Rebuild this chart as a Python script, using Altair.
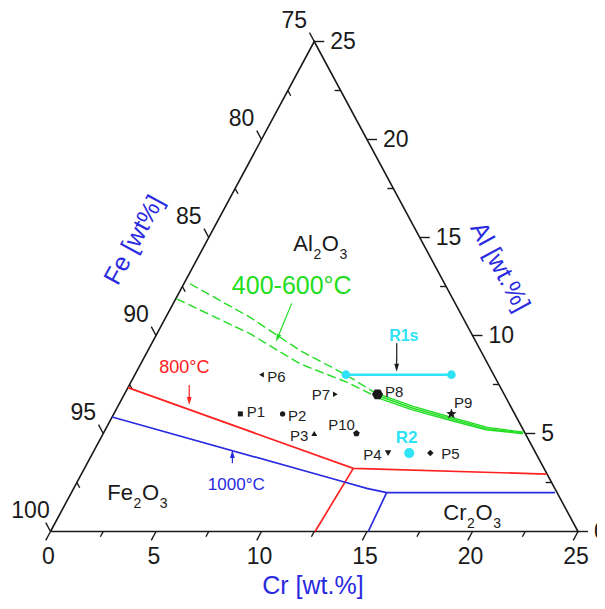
import math
import altair as alt
import pandas as pd

# ---------------- data: compositions in wt.% (Fe = 100 - Cr - Al) ----------------
point_names = ["P1", "P2", "P3", "P4", "P5", "P6", "P7", "P8", "P9", "P10"]
point_cr = [6, 8, 10, 14, 16, 6, 10, 12, 16, 12]
point_al = [6, 6, 5, 4, 4, 8, 7, 7, 6, 5]

r2_cr = [15]
r2_al = [4]
r1s_cr = [10, 15]
r1s_al = [8, 8]

# 400-600 °C boundary (two dashed branches merging into a solid band)
green_up_cr = [0.29, 3.99, 7.20, 10.05, 11.94]
green_up_al = [12.64, 10.93, 9.24, 7.97, 7.03]
green_lo_cr = [0.04, 4.41, 7.54, 10.23, 12.03]
green_lo_al = [11.87, 10.09, 8.56, 7.62, 6.86]
green_band_cr = [11.98, 14.0, 16.05, 18.05, 19.89]
green_band1_al = [7.03, 6.38, 5.83, 5.31, 5.07]
green_band2_al = [6.95, 6.30, 5.76, 5.25, 5.03]
green_band3_al = [6.86, 6.22, 5.69, 5.19, 4.99]

# 800 °C boundary
red_a_cr = [0.0, 12.74, 22.05]
red_a_al = [7.34, 3.22, 2.93]
red_b_cr = [12.74, 12.54]
red_b_al = [3.22, 0.0]

# 1000 °C boundary
blue_a_cr = [0.0, 12.61, 13.89, 14.94, 22.92]
blue_a_al = [5.84, 2.54, 2.20, 1.98, 1.98]
blue_b_cr = [14.94, 15.06]
blue_b_al = [1.98, 0.0]

tick_vals = [0, 2.5, 5, 7.5, 10, 12.5, 15, 17.5, 20, 22.5, 25]
cr_labels = [0, 5, 10, 15, 20, 25]
al_labels = [0, 5, 10, 15, 20, 25]
fe_labels = [75, 80, 85, 90, 95, 100]

# ---------------- layout / style ----------------
W, H = 589, 593
MARGIN = 8
BLX, BLY = 50.5, 531.5
SX, SY = 21.1, 19.6
FONT = "Liberation Sans"
BLACK = "#1a1a1a"
GREEN = "#22dd22"
RED = "#ff2020"
BLUE = "#2a2ae0"
CYAN = "#2ee3f5"


def to_xy(cr, al):
    return cr + al / 2.0, al


def shift(x, y, dxp, dyp):
    return x + dxp / SX, y - dyp / SY


XS = alt.Scale(domain=[(MARGIN - BLX) / SX, (MARGIN + W - BLX) / SX], nice=False, zero=False)
YS = alt.Scale(domain=[(BLY - MARGIN - H) / SY, (BLY - MARGIN) / SY], nice=False, zero=False)


def xy():
    return dict(x=alt.X("x:Q", scale=XS, axis=None), y=alt.Y("y:Q", scale=YS, axis=None))


layers = []


def path_layer(cr, al, color, width, dash=None):
    rows = []
    for i, (c, a) in enumerate(zip(cr, al)):
        x, y = to_xy(c, a)
        rows.append(dict(x=x, y=y, o=i))
    kw = dict(color=color, strokeWidth=width, strokeJoin="miter")
    if dash:
        kw["strokeDash"] = dash
    return alt.Chart(pd.DataFrame(rows)).mark_line(**kw).encode(**xy(), order="o:Q")


def text_layer(rows, size, color, align="center", baseline="middle", angle=None, weight="normal", dy=0):
    kw = dict(font=FONT, fontSize=size, color=color, align=align, baseline=baseline, fontWeight=weight)
    if angle is not None:
        kw["angle"] = angle
    if dy:
        kw["dy"] = dy
    return alt.Chart(pd.DataFrame(rows)).mark_text(**kw).encode(**xy(), text="t:N")


# ---- triangle frame ----
layers.append(path_layer([0, 0, 25, 0], [0, 25, 0, 0], BLACK, 1.6))

# ---- ticks ----
trows = []
for v in tick_vals:
    major = (v % 5 == 0)
    # bottom (Cr)
    x, y = to_xy(v, 0)
    L = 10 if major else 6
    ux, uy = -0.475, 0.88
    x2, y2 = shift(x, y, ux * L, uy * L)
    trows.append(dict(x=x, y=y, x2=x2, y2=y2))
    # right (Al)
    x, y = to_xy(25 - v, v)
    if major:
        ux, uy, L = 1.0, 0.0, 10
    else:
        ux, uy, L = -1.0, 0.0, 6
    x2, y2 = shift(x, y, ux * L, uy * L)
    trows.append(dict(x=x, y=y, x2=x2, y2=y2))
    # left (Fe)
    x, y = to_xy(0, v)
    if major:
        ux, uy, L = -0.474, -0.881, 10
    else:
        ux, uy, L = 0.474, 0.881, 6
    x2, y2 = shift(x, y, ux * L, uy * L)
    trows.append(dict(x=x, y=y, x2=x2, y2=y2))
layers.append(
    alt.Chart(pd.DataFrame(trows)).mark_rule(color=BLACK, strokeWidth=1.4).encode(
        **xy(), x2="x2:Q", y2="y2:Q"
    )
)

# ---- tick labels ----
rows = []
for v in cr_labels:
    x, y = to_xy(v, 0)
    x, y = shift(x, y, -2, 25.5)
    rows.append(dict(x=x, y=y, t=str(v)))
layers.append(text_layer(rows, 23, BLACK))

rows = []
for v in al_labels:
    x, y = to_xy(25 - v, v)
    x, y = shift(x, y, 16, 0)
    rows.append(dict(x=x, y=y, t=str(v)))
layers.append(text_layer(rows, 23, BLACK, align="left"))

rows = []
for v in fe_labels:
    x, y = to_xy(0, 100 - v)
    x, y = shift(x, y, -20, -21)
    rows.append(dict(x=x, y=y, t=str(v)))
layers.append(text_layer(rows, 23, BLACK, align="center"))

# ---- axis titles ----
x, y = shift(*to_xy(12.5, 0), -1.25, 54.5)
layers.append(text_layer([dict(x=x, y=y, t="Cr [wt.%]")], 25, BLUE))
x, y = shift(*to_xy(0, 12.5), -48.4, -46.5)
layers.append(text_layer([dict(x=x, y=y, t="Fe [wt%]")], 25, BLUE, angle=298.5))
x, y = shift(*to_xy(12.5, 12.5), 53.9, -19.8)
layers.append(text_layer([dict(x=x, y=y, t="Al [wt.%]")], 25, BLUE, angle=61.5))

# ---- phase boundaries ----
layers.append(path_layer(green_up_cr, green_up_al, GREEN, 1.4, dash=[9, 4]))
layers.append(path_layer(green_lo_cr, green_lo_al, GREEN, 1.4, dash=[9, 4]))
layers.append(path_layer(green_band_cr, green_band1_al, GREEN, 1.4))
layers.append(path_layer(green_band_cr, green_band2_al, GREEN, 1.4))
layers.append(path_layer(green_band_cr, green_band3_al, GREEN, 1.4))
layers.append(path_layer(red_a_cr, red_a_al, RED, 1.7))
layers.append(path_layer(red_b_cr, red_b_al, RED, 1.7))
layers.append(path_layer(blue_a_cr, blue_a_al, BLUE, 1.7))
layers.append(path_layer(blue_b_cr, blue_b_al, BLUE, 1.7))

# ---- phase labels with subscripts ----
CHAR_W = {"A": 0.667, "l": 0.222, "F": 0.611, "e": 0.556, "C": 0.722, "r": 0.333, "O": 0.778}
phase_labels = [
    ((4.34, 14.33), [("Al", False), ("2", True), ("O", False), ("3", True)]),
    ((1.885, 1.61), [("Fe", False), ("2", True), ("O", False), ("3", True)]),
    ((18.32, 0.59), [("Cr", False), ("2", True), ("O", False), ("3", True)]),
]
main_rows, sub_rows = [], []
for (cr, al), parts in phase_labels:
    x0, y0 = to_xy(cr, al)
    off = 0.0
    for txt, sub in parts:
        size = 14 if sub else 22
        (sub_rows if sub else main_rows).append(dict(x=x0 + off / SX, y=y0, t=txt))
        off += sum(CHAR_W.get(ch, 0.556) for ch in txt) * size + 0.6
layers.append(text_layer(main_rows, 22, BLACK, align="left", baseline="alphabetic"))
layers.append(text_layer(sub_rows, 14, BLACK, align="left", baseline="alphabetic", dy=8))

# ---- annotations: temperature labels and arrows ----
ann = [
    ((5.17, 12.53), "400-600°C", 25, GREEN, "normal"),
    ((2.18, 8.33), "800°C", 18, RED, "normal"),
    ((7.62, 2.37), "1000°C", 17, BLUE, "normal"),
    ((11.76, 9.97), "R1s", 16, CYAN, "bold"),
]
for (cr, al), t, size, color, wt in ann:
    x, y = to_xy(cr, al)
    layers.append(text_layer([dict(x=x, y=y, t=t)], size, color, weight=wt))

arrows = [
    ((5.61, 11.64), (5.85, 9.68), GREEN),
    ((2.84, 7.47), (3.35, 6.45), RED),
    ((6.88, 3.48), (6.54, 4.16), BLUE),
    ((11.61, 9.60), (12.33, 8.15), BLACK),
]
HEAD = "M0,1L-0.6,-1L0.6,-1Z"
HEAD_LEN = 8
head_rows = []
for (c1, a1), (c2, a2), color in arrows:
    x1, y1 = to_xy(c1, a1)
    x2, y2 = to_xy(c2, a2)
    dxp = (x2 - x1) * SX
    dyp = -(y2 - y1) * SY
    n = math.hypot(dxp, dyp)
    ux, uy = dxp / n, dyp / n
    hx, hy = shift(x2, y2, -ux * HEAD_LEN / 2, -uy * HEAD_LEN / 2)
    ang = math.degrees(math.atan2(-ux, uy)) % 360
    head_rows.append(dict(x=hx, y=hy, ang=ang, c=color))
    layers.append(
        alt.Chart(pd.DataFrame([dict(x=x1, y=y1, o=0), dict(x=hx, y=hy, o=1)]))
        .mark_line(color=color, strokeWidth=1.2)
        .encode(**xy(), order="o:Q")
    )
layers.append(
    alt.Chart(pd.DataFrame(head_rows))
    .mark_point(shape=HEAD, filled=True, opacity=1, size=HEAD_LEN * HEAD_LEN, strokeWidth=0)
    .encode(**xy(), angle=alt.Angle("ang:Q", scale=None), color=alt.Color("c:N", scale=None))
)

# ---- cyan R1s segment and R2 point ----
layers.append(path_layer(r1s_cr, r1s_al, CYAN, 2.4))
rows = [dict(x=to_xy(c, a)[0], y=a) for c, a in zip(r1s_cr, r1s_al)]
layers.append(
    alt.Chart(pd.DataFrame(rows)).mark_point(shape="circle", filled=True, opacity=1, size=75, color=CYAN).encode(**xy())
)
rows = [dict(x=to_xy(c, a)[0], y=a) for c, a in zip(r2_cr, r2_al)]
layers.append(
    alt.Chart(pd.DataFrame(rows)).mark_point(shape="circle", filled=True, opacity=1, size=100, color=CYAN).encode(**xy())
)
x, y = shift(*to_xy(r2_cr[0], r2_al[0]), -2.5, -15)
layers.append(text_layer([dict(x=x, y=y, t="R2")], 17, CYAN, weight="bold"))


# ---- sample points ----
def poly_path(n, inner=None, rot=-90):
    k = 2 * n if inner else n
    pts = []
    for i in range(k):
        r = 1.0 if (not inner or i % 2 == 0) else inner
        a = math.radians(rot + i * 360.0 / k)
        pts.append(f"{r * math.cos(a):.3f},{r * math.sin(a):.3f}")
    return "M" + "L".join(pts) + "Z"


MARKER = {
    "P1": ("square", 25),
    "P2": ("circle", 28),
    "P3": ("triangle-up", 36),
    "P4": ("triangle-down", 42),
    "P5": ("diamond", 42),
    "P6": ("triangle-left", 30),
    "P7": ("triangle-right", 30),
    "P8": (poly_path(6, rot=0), 125),
    "P9": (poly_path(5, inner=0.42), 120),
    "P10": (poly_path(5), 48),
}
# label offsets in pixels (dx, dy) and alignment
LABEL_OFF = {
    "P1": (6.3, -2.2, "left"),
    "P2": (5.4, 1.8, "left"),
    "P3": (-6.0, 2.0, "right"),
    "P4": (-6.4, 2.0, "right"),
    "P5": (11.0, 1.0, "left"),
    "P6": (5.8, 2.0, "left"),
    "P7": (-5.3, 0.7, "right"),
    "P8": (7.5, -2.6, "left"),
    "P9": (2.6, -10.7, "left"),
    "P10": (-1.5, -8.5, "right"),
}
prow = []
lrows = {"left": [], "right": []}
for nm, c, a in zip(point_names, point_cr, point_al):
    x, y = to_xy(c, a)
    prow.append(dict(x=x, y=y, n=nm, sz=MARKER[nm][1]))
    dxp, dyp, al_ = LABEL_OFF[nm]
    lx, ly = shift(x, y, dxp, dyp)
    lrows[al_].append(dict(x=lx, y=ly, t=nm))
layers.append(
    alt.Chart(pd.DataFrame(prow))
    .mark_point(filled=True, opacity=1, color=BLACK, strokeWidth=0)
    .encode(
        **xy(),
        shape=alt.Shape("n:N", scale=alt.Scale(domain=point_names, range=[MARKER[n][0] for n in point_names]), legend=None),
        size=alt.Size("sz:Q", scale=None, legend=None),
    )
)
layers.append(text_layer(lrows["left"], 15, "#222222", align="left"))
layers.append(text_layer(lrows["right"], 15, "#222222", align="right"))

chart = (
    alt.layer(*layers)
    .properties(width=W, height=H, padding=0, autosize=alt.AutoSizeParams(type="none"), background="white")
    .configure_view(stroke=None)
)
chart.save("out.html", embed_options={"renderer": "svg", "actions": False})
